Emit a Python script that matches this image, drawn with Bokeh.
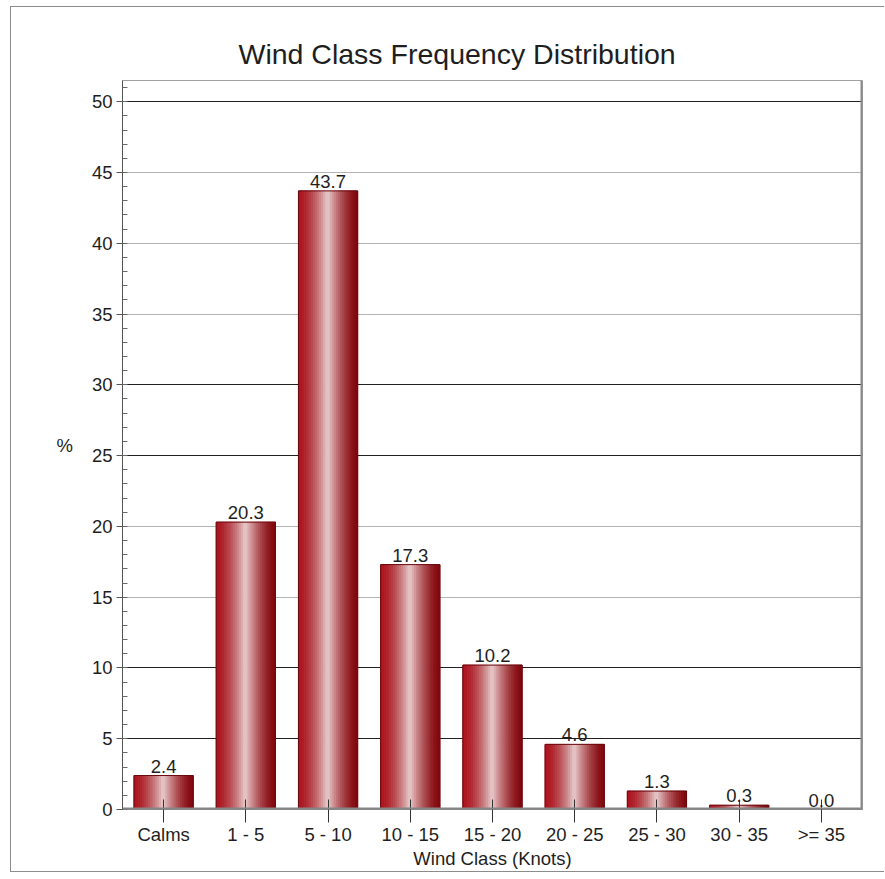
from bokeh.plotting import figure
from bokeh.models import (FactorRange, Range1d, SingleIntervalTicker, FixedTicker,
                          Grid, Span, ColumnDataSource, LabelSet)
from bokeh.core.properties import value
from bokeh.transform import dodge
from bokeh.embed import file_html
from bokeh.resources import INLINE

# ---- data ----
categories = ["Calms", "1 - 5", "5 - 10", "10 - 15", "15 - 20", "20 - 25", "25 - 30", "30 - 35", ">= 35"]
percent = [2.4, 20.3, 43.7, 17.3, 10.2, 4.6, 1.3, 0.3, 0.0]
y_ticks_dark = [5, 10, 25, 30, 50]
y_ticks_light = [15, 20, 35, 40, 45]
title_text = "Wind Class Frequency Distribution"
x_label = "Wind Class (Knots)"
y_label = "%"

FONT = "Liberation Sans"
TXT = "#1e1e1e"
W, H = 874, 866

p = figure(x_range=FactorRange(*categories), y_range=Range1d(0, 51.5),
           width=W, height=H, output_backend="svg", toolbar_location=None,
           min_border_left=111, min_border_right=23, min_border_top=73, min_border_bottom=64)
p.styles = {"margin-left": "10px", "margin-top": "6px",
            "border-left": "1px solid #8c8c8c", "border-top": "1px solid #8c8c8c",
            "border-bottom": "1px solid #8c8c8c"}
p.background_fill_color = "white"
p.border_fill_color = "white"
p.outline_line_color = "#a0a0a0"
p.outline_line_width = 1

# title
p.title.text = title_text
p.title.text_font = FONT
p.title.text_font_size = "28.5px"
p.title.text_font_style = "normal"
p.title.text_color = TXT
p.title.align = "left"
p.title.offset = 116
p.title.standoff = 22

# grids
p.xgrid.grid_line_color = None
p.ygrid.ticker = FixedTicker(ticks=y_ticks_dark)
p.ygrid.grid_line_color = "#202020"
p.ygrid.grid_line_width = 1
light_grid = Grid(dimension=1, ticker=FixedTicker(ticks=y_ticks_light),
                  grid_line_color="#b4b4b4", grid_line_width=1)
p.add_layout(light_grid)

# x axis
xa = p.xaxis[0]
xa.axis_label = x_label
xa.axis_label_text_font = FONT
xa.axis_label_text_font_size = "18.5px"
xa.axis_label_text_font_style = "normal"
xa.axis_label_text_color = TXT
xa.axis_label_standoff = 0
xa.major_label_text_font = FONT
xa.major_label_text_font_size = "18.5px"
xa.major_label_text_color = TXT
xa.major_label_standoff = 1
xa.major_tick_in = 10
xa.major_tick_out = 13
xa.major_tick_line_color = "#333333"
xa.axis_line_color = "#8a8a8a"

# y axis
ya = p.yaxis[0]
ya.ticker = SingleIntervalTicker(interval=5, num_minor_ticks=5)
ya.axis_label = y_label
ya.axis_label_text_font = FONT
ya.axis_label_text_font_size = "18.5px"
ya.axis_label_text_font_style = "normal"
ya.axis_label_text_color = TXT
ya.axis_label_standoff = 16
if "axis_label_orientation" in ya.properties():
    ya.axis_label_orientation = "horizontal"
ya.major_label_text_font = FONT
ya.major_label_text_font_size = "18.5px"
ya.major_label_text_color = TXT
ya.major_label_standoff = 4
ya.axis_line_color = "#555555"
ya.major_tick_in = 0
ya.major_tick_out = 6
ya.major_tick_line_color = "#555555"
ya.minor_tick_in = 5
ya.minor_tick_out = 0
ya.minor_tick_line_color = "#666666"

# bars: gradient built from vertical strips
src = ColumnDataSource(dict(cat=categories, pct=percent,
                            lbl=["%.1f" % v for v in percent]))
BAR_W = 0.72
N = 28
sw = BAR_W / N


def mix(a, b, t):
    return tuple(int(round(a[i] + (b[i] - a[i]) * t)) for i in range(3))


left_edge = (175, 20, 30)
right_edge = (128, 8, 14)
light = (232, 204, 204)
for k in range(N):
    t = (k + 0.5) / N
    base = mix(left_edge, right_edge, t)
    f = (1 - abs(2 * t - 1)) ** 1.6
    c = "#%02x%02x%02x" % mix(base, light, f)
    off = -BAR_W / 2 + (k + 0.5) * sw
    p.vbar(x=dodge("cat", off, range=p.x_range), top="pct", bottom=0, width=sw,
           source=src, fill_color=c, line_color=c, line_width=1)

p.vbar(x="cat", top="pct", bottom=0, width=BAR_W, source=src,
       fill_alpha=0, line_color="#6a0a0e", line_width=1)

# baseline floor and right shadow
p.add_layout(Span(location=0, dimension="width", line_color="#858585", line_width=4))
p.add_layout(Span(location=len(categories), dimension="height", line_color="#8a8a8a",
                  line_width=4))

# value labels
p.add_layout(LabelSet(x="cat", y="pct", text="lbl", source=src, y_offset=3,
                      text_align="center", text_baseline="bottom",
                      text_font=value(FONT), text_font_size=value("18.5px"),
                      text_color=TXT))

open("out.html", "w").write(file_html(p, INLINE))
